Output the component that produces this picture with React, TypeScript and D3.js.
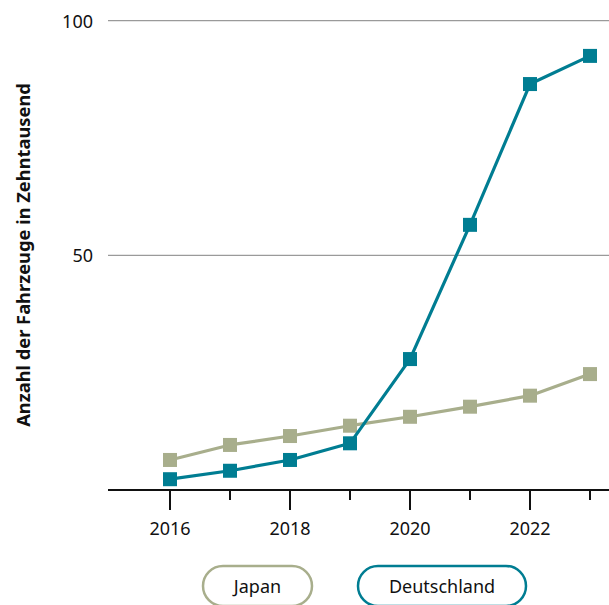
import React from "react";
import * as d3 from "d3";

// Fahrzeugbestand in Zehntausend, 2016–2023
const years = [2016, 2017, 2018, 2019, 2020, 2021, 2022, 2023];
const japan = [6.4, 9.6, 11.5, 13.7, 15.6, 17.75, 20.1, 24.7];
const deutschland = [2.3, 4.1, 6.4, 9.95, 27.9, 56.5, 86.5, 92.5];
const yTicks = [50, 100];
const xLabelYears = [2016, 2018, 2020, 2022];

const seriesNames = ["Japan", "Deutschland"];
const seriesColors = ["#a8ae8c", "#007d92"];

const W = 609;
const H = 605;
const FONT = "'Noto Sans', 'Open Sans', sans-serif";

export default function App() {
  const x = d3.scaleLinear().domain([2016, 2023]).range([170, 590]);
  const y = d3.scaleLinear().domain([0, 100]).range([490, 20.7]);

  const line = d3
    .line<number>()
    .x((_, i) => x(years[i]))
    .y((d) => y(d));

  const series = [japan, deutschland];
  const marker = 14;

  const legend = [
    { name: seriesNames[0], color: seriesColors[0], x0: 203, x1: 312 },
    { name: seriesNames[1], color: seriesColors[1], x0: 358, x1: 526 },
  ];

  return (
    <svg
      width={W}
      height={H}
      style={{ position: "absolute", left: 0, top: 0, background: "#fff" }}
      fontFamily={FONT}
    >
      {/* horizontal gridlines with y labels */}
      {yTicks.map((t) => (
        <g key={t}>
          <line x1={108} x2={W} y1={y(t)} y2={y(t)} stroke="#9a9a9a" strokeWidth={1.2} />
          <text
            x={93}
            y={y(t)}
            textAnchor="end"
            dominantBaseline="central"
            fontSize={18}
            fill="#111"
          >
            {t}
          </text>
        </g>
      ))}

      {/* y axis title */}
      <text
        transform={`translate(22,${255}) rotate(-90)`}
        textAnchor="middle"
        dominantBaseline="central"
        fontSize={18.3}
        fontWeight="bold"
        fill="#111"
      >
        Anzahl der Fahrzeuge in Zehntausend
      </text>

      {/* x axis */}
      <line x1={108} x2={W} y1={y(0)} y2={y(0)} stroke="#111" strokeWidth={2} />
      {years.map((yr) => {
        const major = xLabelYears.includes(yr);
        return (
          <line
            key={yr}
            x1={x(yr)}
            x2={x(yr)}
            y1={y(0)}
            y2={y(0) + (major ? 20 : 10)}
            stroke="#111"
            strokeWidth={2}
          />
        );
      })}
      {xLabelYears.map((yr) => (
        <text
          key={yr}
          x={x(yr)}
          y={528}
          textAnchor="middle"
          dominantBaseline="central"
          fontSize={18}
          fill="#111"
        >
          {yr}
        </text>
      ))}

      {/* series lines and markers */}
      {series.map((vals, si) => (
        <g key={seriesNames[si]}>
          <path
            d={line(vals) || ""}
            fill="none"
            stroke={seriesColors[si]}
            strokeWidth={3.2}
            strokeLinejoin="round"
          />
          {vals.map((v, i) => (
            <rect
              key={i}
              x={x(years[i]) - marker / 2}
              y={y(v) - marker / 2}
              width={marker}
              height={marker}
              fill={seriesColors[si]}
            />
          ))}
        </g>
      ))}

      {/* legend */}
      {legend.map((l) => (
        <g key={l.name}>
          <rect
            x={l.x0}
            y={566}
            width={l.x1 - l.x0}
            height={40}
            rx={20}
            ry={20}
            fill="#fff"
            stroke={l.color}
            strokeWidth={2.5}
          />
          <text
            x={(l.x0 + l.x1) / 2}
            y={586}
            textAnchor="middle"
            dominantBaseline="central"
            fontSize={18}
            fill="#111"
          >
            {l.name}
          </text>
        </g>
      ))}
    </svg>
  );
}
